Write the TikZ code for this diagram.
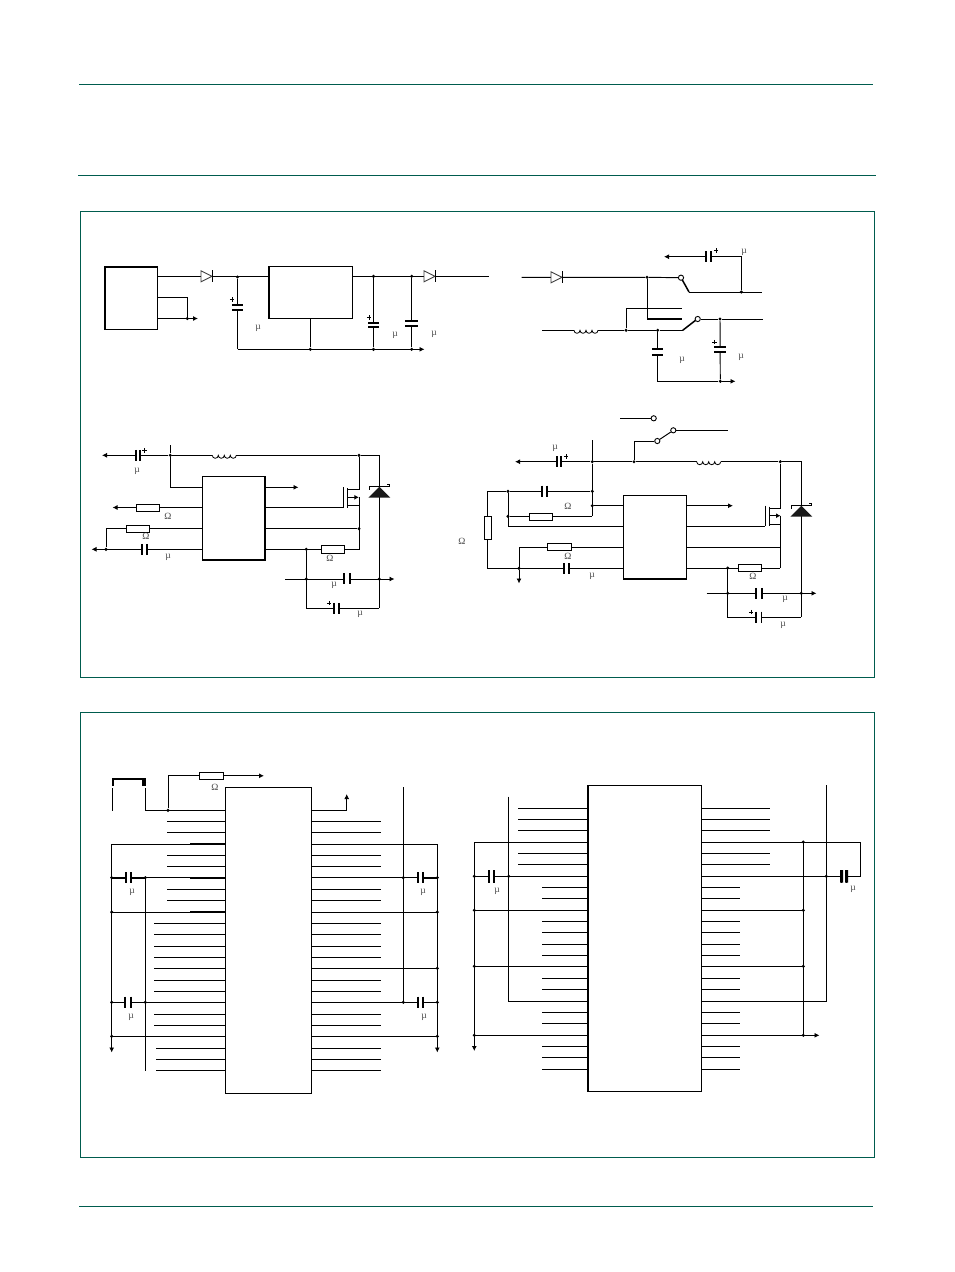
\documentclass[tikz,border=0pt]{standalone}
\usepackage{fontspec}
\setmainfont{Liberation Serif}
\usetikzlibrary{arrows.meta}
\definecolor{nxp}{HTML}{005C4E}
\tikzset{
  x=1pt,y=-1pt,
  wire/.style={line width=0.95pt,black},
  outw/.style={wire,-{Latex[length=5pt,width=5pt]}},
  thickw/.style={line width=1.7pt,black},
  plate/.style={line width=1.8pt,black},
  jn/.style={circle,fill=black,inner sep=0pt,minimum size=3.4pt},
  icbox/.style={draw=black,line width=1.0pt,fill=white,inner sep=0pt,outer sep=0pt},
  resH/.style={draw=black,line width=0.9pt,fill=white,inner sep=0pt,outer sep=0pt,minimum width=23.5pt,minimum height=7pt},
  resV/.style={resH,minimum width=7pt,minimum height=23.5pt},
  val/.style={font=\fontsize{9.5}{9.5}\selectfont,text=black!70,inner sep=0pt},
  framew/.style={draw=nxp,line width=1pt},
  hole/.style={draw=black,line width=0.9pt,fill=white,circle,inner sep=0pt,minimum size=5.2pt}
}
\newcommand\vcap[4]{% x, y1, y2, half width : plates across a vertical wire
  \fill[white] ({#1-#4},#2) rectangle ({#1+#4},#3);
  \draw[plate] ({#1-#4},#2) -- ({#1+#4},#2) ({#1-#4},#3) -- ({#1+#4},#3);}
\newcommand\hcap[4]{% x1, x2, y, half height : plates across a horizontal wire
  \fill[white] (#1,{#3-#4}) rectangle (#2,{#3+#4});
  \draw[plate] (#1,{#3-#4}) -- (#1,{#3+#4}) (#2,{#3-#4}) -- (#2,{#3+#4});}
\newcommand\plus[2]{\draw[line width=0.8pt] ({#1-2.2},#2) -- ({#1+2.2},#2) (#1,{#2-2.2}) -- (#1,{#2+2.2});}
\newcommand\diode[2]{% left x, y
  \draw[line width=0.9pt,fill=white,draw=black!75] (#1,{#2-5.5}) -- (#1,{#2+5.5}) -- ({#1+11},#2) -- cycle;
  \draw[line width=0.9pt] ({#1+11.3},{#2-6}) -- ({#1+11.3},{#2+6});}
\newcommand\coil[2]{% left x, y
  \draw[white,line width=1.8pt] (#1,#2) -- ({#1+24},#2);
  \draw[line width=0.8pt] (#1,#2) arc (180:0:3) arc (180:0:3) arc (180:0:3) arc (180:0:3);}
\newcommand\zener[2]{% x, y of the base
  \fill[black!90] ({#1-11},#2) -- ({#1+11},#2) -- (#1,{#2-11}) -- cycle;
  \draw[line width=0.9pt] ({#1-10},{#2-8}) -- ({#1-10},{#2-11}) -- ({#1+10},{#2-11}) -- ({#1+10},{#2-13}) -- ({#1+7.5},{#2-13});}
\newcommand\mosfet[2]{% gate x, top y
  \draw[wire] (#1,#2) -- (#1,{#2+20.3});
  \draw[wire] ({#1+4},{#2+1}) -- ({#1+4},{#2+20.3});
  \draw[wire] ({#1+4},{#2+2.3}) -- ({#1+15.5},{#2+2.3});
  \draw[wire] ({#1+4},{#2+18.5}) -- ({#1+15.5},{#2+18.5});
  \draw[wire,-{Latex[length=4.5pt,width=5pt]}] ({#1+4},{#2+10}) -- ({#1+15.5},{#2+10});}
\begin{document}
\begin{tikzpicture}
\useasboundingbox (0,0) rectangle (954,1272);
\fill[white] (0,0) rectangle (954,1272);
% page rules and frames
\draw[framew] (79,84.7) -- (873,84.7);
\draw[framew] (78,175.6) -- (876,175.6);
\draw[framew] (79,1206.3) -- (873,1206.3);
\draw[framew] (80.5,211.5) rectangle (874.5,677.5);
\draw[framew] (80.5,712.8) rectangle (874.5,1157.6);

%%% ---------- upper left circuit ----------
\node[icbox,line width=1.5pt,minimum width=52.5pt,minimum height=62.5pt] (src) at (131.2,298) {};
\node[icbox,minimum width=83.5pt,minimum height=52.3pt] (reg) at (310.8,292.4) {};
\draw[line width=1.2pt] (reg.north west) -- (reg.south west);
\coordinate (rail) at (0,276.3);
\draw[wire] (src.east |- rail) -- (reg.west |- rail);
\draw[wire] (reg.east |- rail) -- (489,276.3);
\diode{201}{276.3} \diode{424}{276.3}
\draw[wire] (src.east |- 0,297.3) -| (187.3,318.5);
\draw[outw] (src.east |- 0,318.5) -- (198,318.5);
\node[jn] (j1) at (187.3,318.5) {};
\node[jn] (j2) at (237.5,277) {};
\node[jn] (j3) at (373.5,276.3) {};
\node[jn] (j4) at (411.7,276.3) {};
\draw[wire] (j2) -- (237.5,349.3) coordinate (b1);
\draw[outw] (b1) -- (424.5,349.3);
\node[jn] (j5) at (310.3,349.3) {};
\node[jn] (j6) at (373.5,349.3) {};
\node[jn] (j7) at (411.7,349.3) {};
\draw[wire] (reg.south -| j5) -- (j5);
\draw[wire] (j3) -- (j6);
\draw[wire] (j4) -- (j7);
\vcap{237.5}{305}{310}{5.5} \plus{232}{299.5}
\vcap{373.5}{322.7}{327}{5.5} \plus{369}{317.5}
\vcap{411.7}{321.3}{326}{6.5}
\node[val] at (258,328) {µ};
\node[val] at (395,335) {µ};
\node[val] at (434,334) {µ};

%%% ---------- upper right circuit ----------
\node[hole] (s1) at (681,277.7) {};
\node[hole] (s2) at (697.7,319) {};
\node[jn] (k1) at (647,277.3) {};
\node[jn] (k2) at (741.3,292) {};
\node[jn] (k3) at (626,330.3) {};
\node[jn] (k4) at (657.7,330.3) {};
\node[jn] (k5) at (720,319) {};
\node[jn] (k6) at (720.3,381.3) {};
\draw[wire] (521.7,277.3) -- (k1) -- (s1);
\diode{551}{277.3}
\draw[line width=1.5pt] (s1) ++(1.4,2.4) -- (689,292);
\draw[wire] (689,292) -- (762,292);
\draw[wire] (k2) |- (740,256.7);
\draw[outw] (k2 |- 0,256.7) -- (664,256.7);
\hcap{706}{711}{256.7}{5.7} \plus{716}{250.5}
\node[val] at (744,252) {µ};
\draw[wire] (k1) -- (647,319.3);
\draw[thickw] (647,319.3) -- (681.7,319.3);
\draw[wire] (k3) |- (681.7,308.3);
\draw[wire] (542.3,330.3) -- (k3) -- (k4) -- (682.7,330.3);
\coil{574}{330.3}
\draw[line width=1.5pt] (682.7,330.3) -- (695.3,320.5);
\draw[wire] (s2) -- (k5) -- (763,319);
\draw[wire] (k4) |- (k6);
\draw[outw] (k6) -- (735.5,381.3);
\draw[wire] (k5) -- (k6);
\vcap{657.7}{349.3}{355}{5.5}
\vcap{720}{347.3}{352.3}{6} \plus{714.5}{342}
\node[val] at (682,360) {µ};
\node[val] at (741,357) {µ};

%%% ---------- middle left circuit ----------
\node[icbox,line width=1.5pt,minimum width=62.7pt,minimum height=83.3pt] (u1) at (233.7,518.3) {};
\node[jn] (a1) at (170.3,455.3) {};
\node[jn] (a2) at (359,455.3) {};
\draw[outw] (a1) -- (102,455.3);
\hcap{135.7}{140.3}{455.3}{5.5} \plus{144.5}{450.5}
\node[val] at (137,471) {µ};
\draw[wire] (a1) -- (a2) -- (379.3,455.3) -- (379.3,608.3) coordinate (a3);
\coil{212.3}{455.3}
\draw[wire] (170.3,445) -- (a1);
\draw[wire] (a1) |- (u1.west |- 0,487.3);
\node[resH] (r1) at (148,507.5) {};
\node[resH] (r2) at (138,528.7) {};
\node[resH,minimum height=7.3pt] (r3) at (333,549.3) {};
\draw[outw] (r1) -- (112.5,507.5);
\draw[wire] (r1) -- (u1.west |- r1);
\draw[wire] (r2) -- (u1.west |- r2);
\node[jn] (a4) at (106,549.3) {};
\draw[wire] (r2) -| (a4);
\draw[outw] (u1.west |- a4) -- (91.5,549.3);
\hcap{142}{146.7}{549.3}{5.5}
\node[resH] at (r1) {};
\node[resH] at (r2) {};
\node[val] at (168,516.5) {Ω};
\node[val] at (146,536.5) {Ω};
\node[val] at (168,557) {µ};
\draw[outw] (u1.east |- 0,487.3) -- (298.5,487.3);
\draw[wire] (u1.east |- r1) -- (343.3,507.5);
\mosfet{343.3}{487.3}
\draw[wire] (a2) -- (359,489.6);
\draw[wire] (359,497.3) -- (359,549.3);
\node[jn] (a5) at (359,528.7) {};
\draw[wire] (u1.east |- a5) -- (a5);
\draw[wire] (u1.east |- r3) -- (r3);
\draw[wire] (r3) -| (a5);
\node[resH,minimum height=7.3pt] at (r3) {};
\node[jn] (a6) at (306.3,549.3) {};
\draw[wire] (a6) |- (a3);
\draw[outw] (285,579) -- (394.5,579);
\node[jn] (a7) at (306.3,579) {};
\node[jn] (a8) at (379.3,579) {};
\hcap{344.3}{350}{578.5}{5.2}
\hcap{334.3}{339.3}{608.3}{5.5} \plus{329}{603}
\zener{379.3}{497.7}
\node[val] at (330,558.5) {Ω};
\node[val] at (334,585.5) {µ};
\node[val] at (360,614) {µ};

%%% ---------- middle right circuit ----------
\node[icbox,minimum width=63.4pt,minimum height=83.7pt] (u2) at (655,537.2) {};
\draw[line width=1.4pt] (u2.south west) -- (u2.south east);
\node[hole] (t1) at (653.7,418.3) {};
\node[hole] (t2) at (657.3,441) {};
\node[hole] (t3) at (673.3,430.3) {};
\draw[wire] (620,418.3) -- (t1);
\draw[wire] (t2) -- (t3);
\draw[wire] (t3) -- (728.3,430.3);
\node[jn] (b1) at (592.3,461.7) {};
\node[jn] (b2) at (634,461.7) {};
\node[jn] (b3) at (780.3,461.7) {};
\draw[wire] (t2) -| (b2);
\draw[outw] (b1) -- (515,461.7);
\hcap{556.7}{561.3}{461.7}{5.7} \plus{566}{456.5}
\node[val] at (555,448.5) {µ};
\draw[wire] (b1) -- (b2) -- (b3) -- (801.3,461.7) -- (801.3,617) coordinate (b4);
\coil{696.7}{461.7}
\draw[wire] (592.3,440) -- (b1) -- (592.3,516.3) coordinate (b5);
\node[jn] (b6) at (508,491.3) {};
\node[jn] (b7) at (592.3,491.3) {};
\node[jn] (b8) at (592.3,505.7) {};
\node[jn] (b9) at (508,516.3) {};
\draw[wire] (b7) -- (b6) -- (487.3,491.3);
\hcap{541.7}{547}{491.3}{5.7}
\node[val] at (568,506) {Ω};
\draw[wire] (b6) -- (508,526.7) -- (u2.west |- 0,526.7);
\draw[wire] (b9) -- (b5);
\node[resH,minimum height=7.6pt] (r4) at (541,516.8) {};
\draw[wire] (b8) -- (u2.west |- b8);
\draw[wire] (487.3,491.3) -- (487.3,568.3) -- (u2.west |- 0,568.3);
\node[resV] (r5) at (488,528) {};
\node[val] at (462,541.5) {Ω};
\node[resH] (r6) at (559.5,547.3) {};
\draw[wire] (r6) -- (u2.west |- r6);
\node[jn] (b10) at (519,568.3) {};
\draw[wire] (r6) -| (519,568);
\draw[outw] (b10) -- (519,583.5);
\node[resH] at (r6) {};
\hcap{563.7}{568.7}{568.3}{5.3}
\node[val] at (568,556) {Ω};
\node[val] at (592,576.5) {µ};
\draw[outw] (u2.east |- b8) -- (733,505.7);
\draw[wire] (u2.east |- 0,526.7) -- (765,526.7);
\mosfet{765}{505.7}
\draw[wire] (b3) -- (780.3,508);
\draw[wire] (780.3,516) -- (780.3,568.3);
\draw[wire] (u2.east |- 0,547.3) -- (780.3,547.3);
\node[resH,minimum height=7.4pt] (r7) at (750,568) {};
\draw[wire] (u2.east |- r7) -- (r7);
\draw[wire] (r7) -- (780.3,568) ;
\node[resH,minimum height=7.4pt] at (r7) {};
\node[val] at (753,576.5) {Ω};
\draw[wire] (727.7,568) |- (b4);
\draw[outw] (706.7,593.3) -- (816.5,593.3);
\node[jn] (b11) at (727.7,568) {};
\node[jn] (b12) at (727.7,593.3) {};
\node[jn] (b13) at (801.3,593.3) {};
\hcap{756}{762}{593.5}{5.7}
\hcap{756}{761.5}{617}{5.5} \plus{751}{612}
\zener{801.3}{516.7}
\node[val] at (785,599.5) {µ};
\node[val] at (783,625) {µ};

%%% ---------- lower left IC ----------
\node[icbox,minimum width=86.4pt,minimum height=306pt] (u3) at (268.5,940.3) {};
\draw[line width=1.4pt] (u3.north east) -- (u3.south east);
% connector
\draw[line width=2pt] (112.7,786) -- (112.7,778.5) -- (143.7,778.5);
\fill[black] (141.8,777.5) rectangle (145.8,785.5);
\draw[wire] (112,788) -- (112,810.7);
\draw[wire] (145.3,788) -- (145.3,810.7) -- (u3.west |- 0,810.7);
\node[jn] (c1) at (168,810.3) {};
\node[resH] (r8) at (211.5,775.8) {};
\draw[wire] (c1) |- (r8);
\draw[outw] (r8) -- (264,775.8);
\node[resH] at (r8) {};
\node[val] at (215,787) {Ω};
% left short pins
\foreach \v [evaluate=\v as \yy using 760+\v/3] in {184,217,286,319,388,421}
  \draw[wire] (167.3,\yy) -- (u3.west |- 0,\yy);
\foreach \v [evaluate=\v as \yy using 760+\v/3] in {490,523,559,592,625,661,694,763,796}
  \draw[wire] (154.3,\yy) -- (u3.west |- 0,\yy);
\foreach \v [evaluate=\v as \yy using 760+\v/3] in {865,898,932}
  \draw[wire] (156,\yy) -- (u3.west |- 0,\yy);
% left supply rails
\foreach \v [evaluate=\v as \yy using 760+\v/3] in {252,353,456,727,829}{
  \draw[wire] (111.7,\yy) -- (u3.west |- 0,\yy);}
\foreach \v [evaluate=\v as \yy using 760+\v/3] in {251,353,455}
  \draw[thickw] (190,\yy) -- (u3.west |- 0,\yy);
\draw[outw] (111.7,844) -- (111.7,1052.5);
\draw[wire] (145.3,877.7) -- (145.3,1070.7);
\draw[thickw] (111.7,877.7) -- (145.3,877.7);
\foreach \p in {(111.7,877.7),(145.3,877.7),(111.7,912),(111.7,1002.3),(145.3,1002.3),(111.7,1036.3)}
  \node[jn] at \p {};
\hcap{125.7}{131.3}{877.7}{5.7}
\hcap{125.3}{131.3}{1002.3}{5.7}
\node[val] at (132,892) {µ};
\node[val] at (131,1017) {µ};
% right pins
\draw[outw] (u3.east |- 0,810.7) -| (346.7,794);
\foreach \v [evaluate=\v as \yy using 760+\v/3] in {184,217,286,319,388,421,490,523,559,592,661,694,763,796,865,898,932}
  \draw[wire] (u3.east |- 0,\yy) -- (381,\yy);
\foreach \v [evaluate=\v as \yy using 760+\v/3] in {252,353,456,625,727,829}
  \draw[wire] (u3.east |- 0,\yy) -- (437.3,\yy);
\draw[outw] (437.3,844) -- (437.3,1052.5);
\draw[wire] (403.3,787.3) -- (403.3,1002.3);
\draw[thickw] (422.7,877.7) -- (437.3,877.7);
\foreach \p in {(403.3,877.7),(437.3,877.7),(437.3,912),(437.3,968.3),(403.3,1002.3),(437.3,1002.3),(437.3,1036.3)}
  \node[jn] at \p {};
\hcap{417.7}{422.7}{877.7}{5.7}
\hcap{417.7}{422.7}{1002.3}{5.7}
\node[val] at (423,892) {µ};
\node[val] at (424,1017) {µ};

%%% ---------- lower right IC ----------
\node[icbox,minimum width=113.7pt,minimum height=305.7pt] (u4) at (644.8,938.2) {};
\draw[line width=1.4pt] (u4.north west) -- (u4.south west);
\foreach \v [evaluate=\v as \yy using 775+\v/3] in {100,133,166,235,268}{
  \draw[wire] (518.3,\yy) -- (u4.west |- 0,\yy);
  \draw[wire] (u4.east |- 0,\yy) -- (770,\yy);}
\foreach \v [evaluate=\v as \yy using 775+\v/3] in {337,370,439,472,508,541,610,643,712,745,814,847,883}{
  \draw[wire] (542.3,\yy) -- (u4.west |- 0,\yy);
  \draw[wire] (u4.east |- 0,\yy) -- (740,\yy);}
\foreach \v [evaluate=\v as \yy using 775+\v/3] in {202,304,406,574,781}
  \draw[wire] (474.3,\yy) -- (u4.west |- 0,\yy);
\draw[outw] (474.3,842.3) -- (474.3,1051);
\draw[wire] (508.7,796.7) -- (508.7,1001.3) -- (u4.west |- 0,1001.3);
\draw[wire] (u4.east |- 0,842.3) -- (860.3,842.3) -- (860.3,876.3) -- (u4.east |- 0,876.3);
\foreach \v [evaluate=\v as \yy using 775+\v/3] in {406,574}
  \draw[wire] (u4.east |- 0,\yy) -- (803.3,\yy);
\draw[outw] (u4.east |- 0,1035.3) -- (819.5,1035.3);
\draw[wire] (803.3,842.3) -- (803.3,1035.3);
\draw[wire] (826.3,785) -- (826.3,1001.3) -- (u4.east |- 0,1001.3);
\foreach \p in {(474.3,876.3),(508.7,876.3),(474.3,910.3),(474.3,966.3),(474.3,1035.3),(803.3,842),(826.3,876.3),(803.3,910.3),(803.3,966.3),(803.3,1035.3)}
  \node[jn] at \p {};
\hcap{488.7}{494.3}{876.3}{6.2}
\node[val] at (497,891) {µ};
\hcap{841.5}{846.5}{876.3}{6.2}
\fill[black] (840.2,870) rectangle (843,882.5) (845.2,870) rectangle (848,882.5);
\node[val] at (853,889) {µ};
\end{tikzpicture}
\end{document}
